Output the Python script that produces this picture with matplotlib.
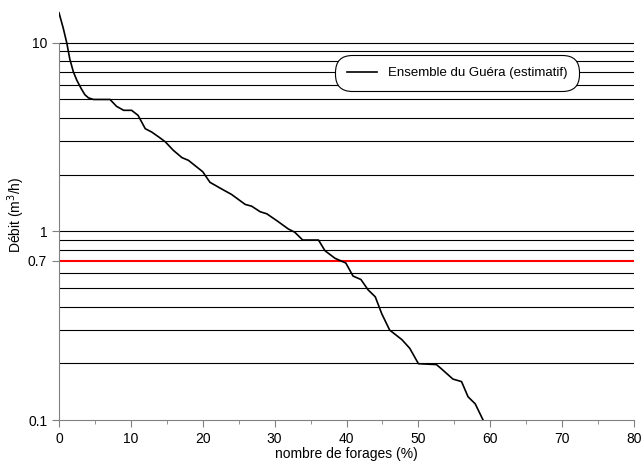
import matplotlib.pyplot as plt
import numpy as np

plt.rcParams['font.family'] = ['Liberation Sans', 'DejaVu Sans']

# courbe des débits classés (estimation)
pct = [0.0, 0.6, 1.1, 1.5, 2.0, 2.5, 3.1, 3.6, 4.1, 4.8, 7.1, 8.0, 9.0, 10.1,
       11.0, 12.0, 12.9, 14.0, 14.8, 15.9, 17.1, 18.0, 20.0, 21.0, 22.6, 24.0,
       25.9, 26.8, 28.0, 28.9, 30.3, 31.9, 32.8, 33.9, 36.1, 37.0, 38.4, 39.9,
       40.9, 42.0, 43.0, 44.0, 44.9, 46.0, 47.7, 48.8, 50.0, 52.5, 53.2, 54.8,
       56.0, 56.9, 57.9, 59.0]
debit = [14.4, 11.9, 9.9, 8.2, 7.0, 6.3, 5.7, 5.3, 5.1, 5.0, 5.0, 4.6, 4.38,
         4.38, 4.12, 3.5, 3.36, 3.14, 2.98, 2.69, 2.46, 2.38, 2.07, 1.82, 1.68,
         1.57, 1.39, 1.36, 1.27, 1.24, 1.14, 1.03, 0.99, 0.90, 0.90, 0.79, 0.72,
         0.68, 0.58, 0.556, 0.49, 0.45, 0.366, 0.30, 0.267, 0.24, 0.199, 0.197,
         0.187, 0.165, 0.16, 0.133, 0.122, 0.10]

seuil = 0.7
grille = [0.2, 0.3, 0.4, 0.5, 0.6, 0.8, 0.9, 1, 2, 3, 4, 5, 6, 7, 8, 9, 10]

fig = plt.figure(figsize=(6.44, 4.71), dpi=100)
ax = fig.add_axes([0.0916, 0.108, 0.893, 0.872])

for g in grille:
    ax.axhline(g, color='black', lw=0.8, zorder=1)
ax.axhline(seuil, color='red', lw=1.5, zorder=2)

ax.plot(pct, debit, color='black', lw=1.2, zorder=3,
        label='Ensemble du Guéra (estimatif)')

ax.set_yscale('log')
ax.set_ylim(0.1, 15)
ax.set_xlim(0, 80)
ax.set_yticks([0.1, 0.7, 1, 10])
ax.set_yticklabels(['0.1', '0.7', '1', '10'])
ax.yaxis.set_minor_locator(plt.NullLocator())
ax.set_xticks(np.arange(0, 81, 10))
ax.set_xticks(np.arange(5, 80, 10), minor=True)

for s in ['top', 'right']:
    ax.spines[s].set_visible(False)
for s in ['left', 'bottom']:
    ax.spines[s].set_color('#808080')
ax.spines['left'].set_bounds(0.1, 10)
ax.tick_params(axis='both', which='major', colors='#808080', length=5,
               labelcolor='black', labelsize=10)
ax.tick_params(axis='x', which='minor', colors='#808080', length=3)

ax.set_xlabel('nombre de forages (%)', fontsize=10, labelpad=1)
ax.set_ylabel('Débit (m$^3$/h)', fontsize=10, labelpad=1)

leg = ax.legend(loc='center', bbox_to_anchor=(0.692, 0.845), fontsize=9.5,
                frameon=True, fancybox=True, framealpha=1, edgecolor='black',
                handlelength=2.3, borderpad=0.6, borderaxespad=0)
leg.get_frame().set_boxstyle('round,pad=0.3,rounding_size=1.3')
leg.get_frame().set_linewidth(0.8)
leg.set_zorder(5)

fig.savefig('out.png', dpi=100)
